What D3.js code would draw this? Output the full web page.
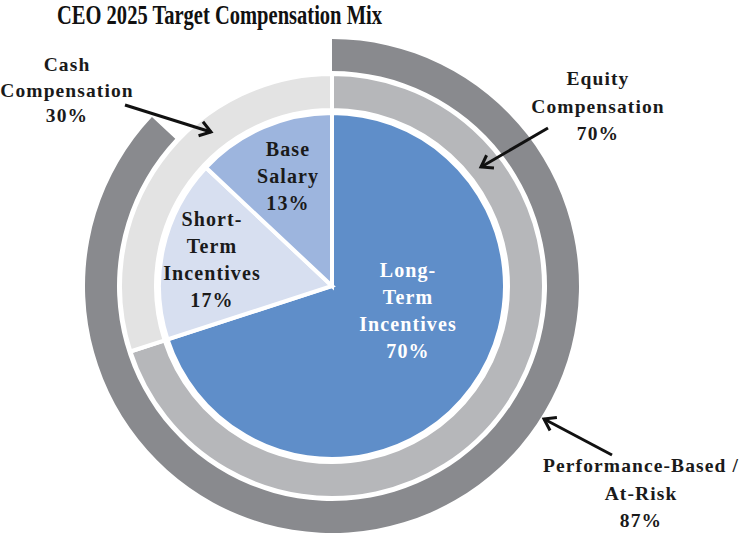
<!DOCTYPE html>
<html><head><meta charset="utf-8">
<script src="https://cdn.jsdelivr.net/npm/d3@7"></script>
<style>body{margin:0;background:#fff}svg{display:block}text{font-family:"Liberation Serif","Times New Roman",serif;font-weight:bold}</style>
</head><body>
<svg id="c" width="745" height="540"></svg>
<script>
const pieLabels = [["Long-","Term","Incentives","70%"],["Short-","Term","Incentives","17%"],["Base","Salary","13%"]];
const pieValues = [70, 17, 13];
const pieColors = ["#5f8ec9","#d7dff0","#9db5de"];
const ringLabels = ["Equity Compensation","Cash Compensation"];
const ringValues = [70, 30];
const ringColors = ["#b6b7ba","#e3e3e3"];
const outerValues = [87, 13];
const outerColors = ["#898a8e", "none"];

const svg = d3.select("#c");
const cx = 332, cy = 286;
const g = svg.append("g").attr("transform", `translate(${cx},${cy})`);
const pie = d3.pie().sort(null).startAngle(0).endAngle(2*Math.PI);

// inner pie
const arcIn = d3.arc().innerRadius(0).outerRadius(173);
g.selectAll("path.in").data(pie(pieValues)).join("path")
  .attr("d", arcIn).attr("fill", (d,i)=>pieColors[i])
  .attr("stroke", "#fff").attr("stroke-width", 4).attr("stroke-linejoin","miter");

// middle ring
const arcMid = d3.arc().innerRadius(176).outerRadius(212);
g.selectAll("path.mid").data(pie(ringValues)).join("path")
  .attr("d", arcMid).attr("fill", (d,i)=>ringColors[i])
  .attr("stroke", "#fff").attr("stroke-width", 4);

// outer ring
const arcOut = d3.arc().innerRadius(215).outerRadius(247);
g.selectAll("path.out").data(pie(outerValues)).join("path")
  .attr("d", arcOut).attr("fill", (d,i)=>outerColors[i]);

// Title
svg.append("text").attr("x", 57).attr("y", 24)
  .attr("font-size", 27).attr("textLength", 325).attr("lengthAdjust","spacingAndGlyphs")
  .attr("fill", "#111").text("CEO 2025 Target Compensation Mix");

function multiline(x, y, lines, color, lh, size) {
  const t = svg.append("text").attr("text-anchor","middle").attr("font-size", size || 20)
    .attr("letter-spacing", 1.1).attr("fill", color);
  lines.forEach((l,i)=> t.append("tspan").attr("x", x).attr("y", y + i*lh).text(l));
}
multiline(408, 277, pieLabels[0], "#fff", 27);
multiline(212, 226, pieLabels[1], "#1a1a1a", 27);
multiline(288, 156, pieLabels[2], "#1a1a1a", 27);

multiline(67, 71, ["Cash","Compensation","30%"], "#1a1a1a", 25.5, 19.5);
multiline(598, 85, ["Equity","Compensation","70%"], "#1a1a1a", 27.5, 19.5);
multiline(641, 472, ["Performance-Based /","At-Risk","87%"], "#1a1a1a", 27.5, 19.5);

function arrow(x1,y1,x2,y2){
  svg.append("line").attr("x1",x1).attr("y1",y1).attr("x2",x2).attr("y2",y2)
    .attr("stroke","#111").attr("stroke-width",3);
  const a = Math.atan2(y2-y1, x2-x1), L = 13, s = 0.6;
  const p = [[x2 - L*Math.cos(a - s), y2 - L*Math.sin(a - s)],[x2,y2],[x2 - L*Math.cos(a + s), y2 - L*Math.sin(a + s)]];
  svg.append("path").attr("d", d3.line()(p)).attr("fill","none").attr("stroke","#111")
    .attr("stroke-width",3).attr("stroke-linejoin","miter");
}
arrow(125,105,211,132);
arrow(548,128,481,167);
arrow(612,455,544,419);
</script>
</body></html>
